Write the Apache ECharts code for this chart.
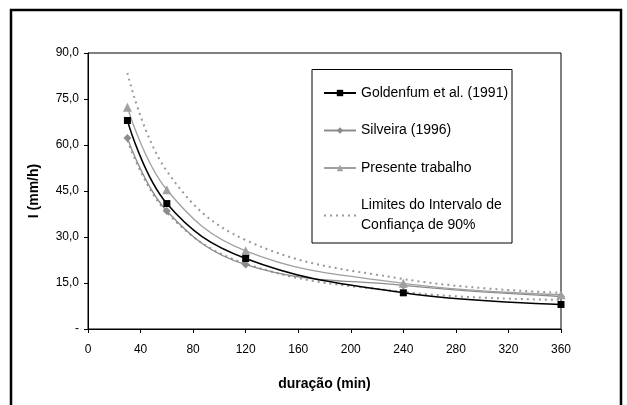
<!DOCTYPE html>
<html>
<head>
<meta charset="utf-8">
<script src="https://cdn.jsdelivr.net/npm/echarts@6/dist/echarts.min.js"></script>
<style>html,body{margin:0;padding:0;background:#fff}#c{width:627px;height:405px}</style>
</head>
<body>
<div id="c"></div>
<script>
const durations = [30, 60, 120, 240, 360];
const goldenfum = [68.0, 40.9, 23.0, 11.8, 8.0];
const silveira = [62.3, 38.5, 21.0, 14.2, 10.6];
const presente = [72.3, 45.4, 25.5, 14.9, 11.2];
const limSup = [83.5, 51.5, 29.0, 16.3, 11.8];
const limInf = [61.5, 38.0, 21.3, 12.1, 9.5];
const yTickValues = [0, 15, 30, 45, 60, 75, 90];
const yTickLabels = ['-', '15,0', '30,0', '45,0', '60,0', '75,0', '90,0'];
const seriesNames = ['Goldenfum et al. (1991)', 'Silveira (1996)', 'Presente trabalho', 'Limites do Intervalo de Confiança de 90%'];

const pairs = arr => durations.map((d, i) => [d, arr[i]]);
const FONT = "'Liberation Sans', Arial, sans-serif";

const chart = echarts.init(document.getElementById('c'), null, {renderer: 'canvas'});
chart.setOption({
  backgroundColor: '#fff',
  animation: false,
  grid: {left: 88, right: 66, top: 53, bottom: 76, show: true, borderColor: '#000', borderWidth: 1},
  xAxis: {
    type: 'value', min: 0, max: 360, interval: 40,
    name: 'duração (min)', nameLocation: 'middle', nameGap: 48,
    nameTextStyle: {fontFamily: FONT, fontWeight: 'bold', fontSize: 14, color: '#000'},
    axisLine: {lineStyle: {color: '#000', width: 1}},
    axisTick: {show: true, length: 4, lineStyle: {color: '#000'}},
    axisLabel: {fontFamily: FONT, fontSize: 12, color: '#000', margin: 15},
    splitLine: {show: false}
  },
  yAxis: {
    type: 'value', min: 0, max: 90, interval: 15,
    name: 'I (mm/h)', nameLocation: 'middle', nameGap: 47, nameRotate: 90,
    nameTextStyle: {fontFamily: FONT, fontWeight: 'bold', fontSize: 14, color: '#000'},
    axisLine: {show: true, lineStyle: {color: '#000', width: 1}},
    axisTick: {show: true, length: 4, lineStyle: {color: '#000'}},
    axisLabel: {fontFamily: FONT, fontSize: 12, color: '#000', margin: 9,
      formatter: v => { const i = yTickValues.indexOf(v); return i >= 0 ? yTickLabels[i] : ''; }},
    splitLine: {show: false}
  },
  legend: {
    left: 323, top: 83, padding: 0, orient: 'vertical', itemGap: 17.5, itemWidth: 32, itemHeight: 8,
    data: [
      {name: seriesNames[0]}, {name: seriesNames[1]}, {name: seriesNames[2]},
      {name: seriesNames[3], itemStyle: {opacity: 0}}
    ],
    textStyle: {fontFamily: FONT, fontSize: 14, color: '#000', lineHeight: 20},
    formatter: n => n === seriesNames[3] ? 'Limites do Intervalo de\nConfiança de 90%' : n
  },
  graphic: [
    {type: 'rect', shape: {x: 11, y: 10, width: 610, height: 420}, style: {fill: 'none', stroke: '#000', lineWidth: 2.5}, silent: true},
    {type: 'rect', shape: {x: 312, y: 69.5, width: 200, height: 173.5}, style: {fill: 'none', stroke: '#000', lineWidth: 1}, silent: true}
  ],
  series: [
    {name: seriesNames[3], type: 'line', data: pairs(limSup), smooth: 0.4, symbol: 'none', z: 2,
     lineStyle: {color: '#999', width: 2, type: [2, 4]}, itemStyle: {color: '#999'}},
    {name: seriesNames[3], type: 'line', data: pairs(limInf), smooth: 0.4, symbol: 'none', z: 2,
     lineStyle: {color: '#999', width: 2, type: [2, 4]}, itemStyle: {color: '#999'}},
    {name: seriesNames[1], type: 'line', data: pairs(silveira), smooth: 0.4, symbol: 'diamond', symbolSize: 8, z: 3,
     lineStyle: {color: '#8c8c8c', width: 1.3}, itemStyle: {color: '#8c8c8c'}},
    {name: seriesNames[2], type: 'line', data: pairs(presente), smooth: 0.4, symbol: 'triangle', symbolSize: 9, z: 3,
     lineStyle: {color: '#a0a0a0', width: 1.3}, itemStyle: {color: '#a0a0a0'}},
    {name: seriesNames[0], type: 'line', data: pairs(goldenfum), smooth: 0.4, symbol: 'rect', symbolSize: 7, z: 4,
     lineStyle: {color: '#000', width: 1.5}, itemStyle: {color: '#000'}}
  ]
});
</script>
</body>
</html>
